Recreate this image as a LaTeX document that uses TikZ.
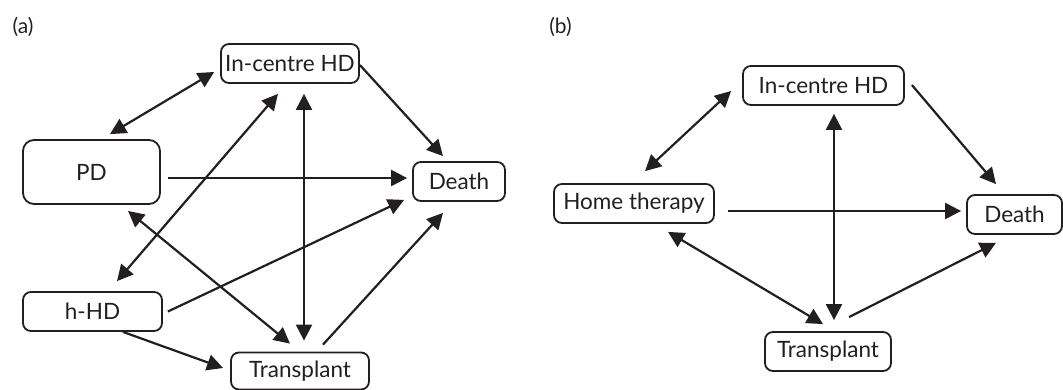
\documentclass[tikz,border=0pt]{standalone}
\usepackage{fontspec}
\setmainfont{Lato}
\usetikzlibrary{arrows.meta,calc}
\definecolor{ink}{HTML}{231F20}
\begin{document}
\begin{tikzpicture}[x=1pt,y=-1pt,
  state/.style={draw=ink, line width=1.8pt, rounded corners=8pt, inner sep=0pt,
    minimum height=39pt, font=\fontsize{22.5}{26}\selectfont, text=ink},
  conn/.style={line width=2.2pt, draw=ink, -{Triangle[length=16pt,width=16pt]}},
  both/.style={line width=2.2pt, draw=ink, {Triangle[length=16pt,width=16pt]}-{Triangle[length=16pt,width=16pt]}},
  panel/.style={font=\fontsize{21}{24}\selectfont, text=ink, inner sep=0pt}]
\useasboundingbox (0,0) rectangle (1063,389);

% panel labels
\node[panel] (la) at (23,27) {(a)};
\node[panel] (lb) at (560.5,27) {(b)};

% ---------- (a) ----------
\node[state, minimum width=138pt] (ica) at (290,63.5) {In-centre HD};
\node[state, minimum width=137pt, minimum height=64pt, rounded corners=11pt] (pd) at (91.5,172) {PD};
\node[state, minimum width=139pt] (hhd) at (92.5,311.5) {h-HD};
\node[state, minimum width=138pt, minimum height=37pt] (tra) at (300,371) {Transplant};
\node[state, minimum width=92pt] (dea) at (459,181.5) {Death};

\draw[both] ($(pd.north)+(18.5,-5)$) -- ($(ica.west)+(-6,8.5)$);
\draw[both] ($(hhd.north)+(24.5,-10)$) -- ($(ica.south)+(-12,10)$);
\draw[both] ($(ica.south)+(14,10)$) -- ($(tra.north)+(4,-11)$);
\draw[conn] ($(ica.east)+(0,1.5)$) -- ($(dea.north)+(-16,-5)$);
\draw[conn] ($(pd.east)+(7,6)$) -- ($(dea.west)+(-5,-3.5)$);
\draw[both] ($(pd.south)+(36.5,6)$) -- ($(tra.north)+(-10,-8)$);
\draw[conn] ($(hhd.east)+(5,0)$) -- ($(dea.south west)+(-8,-2)$);
\draw[conn] ($(hhd.south)+(30.5,0)$) -- ($(tra.west)+(-7,-3)$);
\draw[conn] ($(tra.north)+(23,-7)$) -- ($(dea.south)+(-16,11)$);

% ---------- (b) ----------
\node[state, minimum width=161pt] (icb) at (823.5,85.5) {In-centre HD};
\node[state, minimum width=160pt] (ht) at (634,203.5) {Home therapy};
\node[state, minimum width=95pt] (deb) at (1014.5,214.5) {Death};
\node[state, minimum width=126pt] (trb) at (828,351.5) {Transplant};

\draw[both] ($(ht.north)+(11,-12)$) -- ($(icb.west)+(-11,5.5)$);
\draw[both] ($(icb.south)+(10.5,8)$) -- ($(trb.north)+(6,-11)$);
\draw[conn] ($(icb.east)+(7,-0.5)$) -- ($(deb.north)+(-18.5,-10)$);
\draw[conn] ($(ht.east)+(13,7.5)$) -- ($(deb.west)+(-5,-3.5)$);
\draw[both] ($(ht.south)+(34,8)$) -- ($(trb.north)+(-5,-7)$);
\draw[conn] ($(trb.north)+(21,-14)$) -- ($(deb.south)+(-18.5,8)$);
\end{tikzpicture}
\end{document}
